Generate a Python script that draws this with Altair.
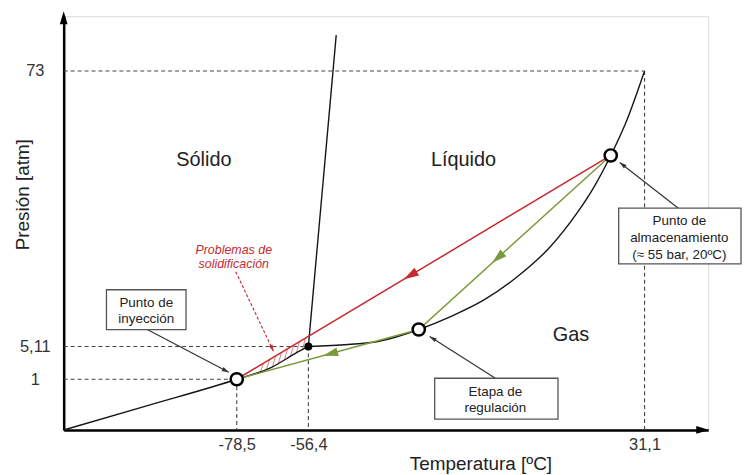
import altair as alt
import pandas as pd
import numpy as np

# Schematic diagram units (u: temperature direction, v: pressure direction)
W, H = 648, 416

x_tick_pos = [174, 246, 584]
x_tick_text = ['-78,5', '-56,4', '31,1']
y_tick_pos = [51, 84, 361]
y_tick_text = ['1', '5,11', '73']

# phase boundaries
sub_u = [0, 86, 174, 209, 233, 246]
sub_v = [0, 25, 51, 63, 77, 84]
melt_u = [246, 274]
melt_v = [84, 397]
vap_u = [246, 286, 316, 357, 389, 423, 456, 489, 516, 533, 550, 566, 584]
vap_v = [84, 86, 89, 101, 114, 131, 154, 184, 218, 244, 276, 311, 361]

# process paths
red_u = [550, 174]
red_v = [276, 51]
green_u = [550, 357, 174]
green_v = [276, 101, 51]

# state points
open_u = [174, 357, 550]
open_v = [51, 101, 276]
triple_u = [246]
triple_v = [84]

# dashed guides (segments)
g_u1 = [0, 584, 0, 246, 0, 174]
g_v1 = [361, 361, 84, 84, 51, 51]
g_u2 = [584, 584, 246, 246, 174, 174]
g_v2 = [361, 0, 84, 0, 51, 0]

# hatch positions (solidification zone)
hatch_u = [198, 204, 210, 216, 222, 228, 234, 240]

# region labels
region_names = ['Sólido', 'Líquido', 'Gas']
region_u = [141, 402, 510]
region_v = [271, 271, 95]

# annotation boxes
box_u1 = [43, 558, 373]
box_u2 = [123, 681, 497]
box_v1 = [141, 223, 52]
box_v2 = [101, 167, 11]

note_text = ['Punto de', 'inyección', 'Punto de', 'almacenamiento',
             '(≈ 55 bar, 20ºC)', 'Etapa de', 'regulación']
note_u = [83, 83, 619, 619, 619, 434, 434]
note_v = [128, 112, 210, 193, 176, 38, 22]

red_note = ['Problemas de', 'solidificación']
red_note_u = [171, 171]
red_note_v = [181, 167]

# annotation leader lines (start -> tip)
lead_u1 = [84, 618, 434]
lead_v1 = [101, 223, 52]
lead_u2 = [166, 559, 368]
lead_v2 = [58, 269, 94]
rlead_u1 = [173]
rlead_v1 = [159]
rlead_u2 = [211]
rlead_v2 = [79]

# arrowheads on process lines: fraction along segment
proc_arrow_frac = [0.553, 0.617, 0.525]

RED = '#C62A2E'
GREEN = '#7C9A3C'
BLACK = '#161616'
ARROW = 'M0,0L0.45,1.5L-0.45,1.5Z'


def heading(du, dv):
    return float(np.degrees(np.arctan2(du, dv)) % 360)


def label_expr(pos, txt):
    expr = "''"
    for p, t in reversed(list(zip(pos, txt))):
        expr = f"datum.value == {p} ? '{t}' : ({expr})"
    return expr


FONT = 'Liberation Sans'
xaxis = alt.Axis(values=x_tick_pos, labelExpr=label_expr(x_tick_pos, x_tick_text),
                 ticks=False, tickSize=0, grid=False, domainColor='black', domainWidth=2.5,
                 labelFont=FONT, labelFontSize=16.5, labelColor='#333',
                 labelPadding=15, labelBaseline='middle', labelAlign='center',
                 title='Temperatura [ºC]', titleFont=FONT, titleFontSize=19,
                 titleFontWeight='normal', titleColor='#222', titleX=419, titleY=34,
                 titleBaseline='middle', titleAlign='center')
yaxis = alt.Axis(values=y_tick_pos, labelExpr=label_expr(y_tick_pos, y_tick_text),
                 ticks=False, tickSize=0, grid=False, domainColor='black', domainWidth=2.5,
                 labelFont=FONT, labelFontSize=16.5, labelColor='#333',
                 labelPadding=29, labelBaseline='middle', labelAlign='center',
                 title='Presión [atm]', titleFont=FONT, titleFontSize=19,
                 titleFontWeight='normal', titleColor='#222', titleX=-41, titleY=179,
                 titleAngle=270, titleBaseline='middle', titleAlign='center')
xs = alt.Scale(domain=[0, W], nice=False, zero=False)
ys = alt.Scale(domain=[0, H], nice=False, zero=False)


def X(f='u'):
    return alt.X(f'{f}:Q', scale=xs, axis=xaxis)


def Y(f='v'):
    return alt.Y(f'{f}:Q', scale=ys, axis=yaxis)


# ---------- data frames ----------
guides = pd.DataFrame({'u': g_u1, 'v': g_v1, 'u2': g_u2, 'v2': g_v2})

curves = pd.concat([
    pd.DataFrame({'u': sub_u, 'v': sub_v, 'c': 'sub'}),
    pd.DataFrame({'u': melt_u, 'v': melt_v, 'c': 'melt'}),
    pd.DataFrame({'u': vap_u, 'v': vap_v, 'c': 'vap'}),
])

red_line = pd.DataFrame({'u': red_u, 'v': red_v, 'o': range(len(red_u))})
green_line = pd.DataFrame({'u': green_u, 'v': green_v, 'o': range(len(green_u))})

hu0 = np.array(hatch_u, dtype=float)
hv0 = np.interp(hu0, sub_u, sub_v)
hu1 = hu0 + 3
hv1 = np.interp(hu1, red_u[::-1], red_v[::-1])
hatch = pd.DataFrame({'u': hu0, 'v': hv0, 'u2': hu1, 'v2': hv1})

# arrowheads
segs = [((red_u[0], red_v[0]), (red_u[1], red_v[1]), RED),
        ((green_u[0], green_v[0]), (green_u[1], green_v[1]), GREEN),
        ((green_u[1], green_v[1]), (green_u[2], green_v[2]), GREEN)]
heads = []
for (a, b, col), t in zip(segs, proc_arrow_frac):
    du, dv = b[0] - a[0], b[1] - a[1]
    heads.append({'u': a[0] + t * du, 'v': a[1] + t * dv, 'ang': heading(du, dv),
                  'col': col, 'sz': 400})
for i in range(len(lead_u1)):
    du, dv = lead_u2[i] - lead_u1[i], lead_v2[i] - lead_v1[i]
    heads.append({'u': lead_u2[i], 'v': lead_v2[i], 'ang': heading(du, dv),
                  'col': '#333', 'sz': 90})
for i in range(len(rlead_u1)):
    du, dv = rlead_u2[i] - rlead_u1[i], rlead_v2[i] - rlead_v1[i]
    heads.append({'u': rlead_u2[i], 'v': rlead_v2[i], 'ang': heading(du, dv),
                  'col': RED, 'sz': 80})
# axis arrows
heads.append({'u': W + 1, 'v': 0, 'ang': 90.0, 'col': 'black', 'sz': 300})
heads.append({'u': 0, 'v': H + 5, 'ang': 0.0, 'col': 'black', 'sz': 300})
heads = pd.DataFrame(heads)

leads = pd.DataFrame({'u': lead_u1, 'v': lead_v1, 'u2': lead_u2, 'v2': lead_v2})
rleads = pd.DataFrame({'u': rlead_u1, 'v': rlead_v1, 'u2': rlead_u2, 'v2': rlead_v2})
boxes = pd.DataFrame({'u': box_u1, 'v': box_v1, 'u2': box_u2, 'v2': box_v2})
regions = pd.DataFrame({'u': region_u, 'v': region_v, 't': region_names})
notes = pd.DataFrame({'u': note_u, 'v': note_v, 't': note_text})
rnotes = pd.DataFrame({'u': red_note_u, 'v': red_note_v, 't': red_note})
opens = pd.DataFrame({'u': open_u, 'v': open_v})
triple = pd.DataFrame({'u': triple_u, 'v': triple_v})

# ---------- layers ----------
layers = []
layers.append(alt.Chart(guides).mark_rule(color='#444', strokeWidth=1.1, strokeDash=[4, 3]).encode(
    x=X(), y=Y(), x2='u2:Q', y2='v2:Q'))
layers.append(alt.Chart(hatch).mark_rule(color='#E07070', strokeWidth=0.9).encode(
    x=X(), y=Y(), x2='u2:Q', y2='v2:Q'))
layers.append(alt.Chart(curves).mark_line(color=BLACK, strokeWidth=1.4, interpolate='monotone').encode(
    x=X(), y=Y(), detail='c:N'))
layers.append(alt.Chart(red_line).mark_line(color=RED, strokeWidth=1.5).encode(
    x=X(), y=Y(), order='o:Q'))
layers.append(alt.Chart(green_line).mark_line(color=GREEN, strokeWidth=1.5).encode(
    x=X(), y=Y(), order='o:Q'))
layers.append(alt.Chart(leads).mark_rule(color='#333', strokeWidth=1.2).encode(
    x=X(), y=Y(), x2='u2:Q', y2='v2:Q'))
layers.append(alt.Chart(rleads).mark_rule(color=RED, strokeWidth=1.1, strokeDash=[3, 2]).encode(
    x=X(), y=Y(), x2='u2:Q', y2='v2:Q'))
layers.append(alt.Chart(heads).mark_point(shape=ARROW, filled=True, opacity=1).encode(
    x=X(), y=Y(), angle=alt.Angle('ang:Q', scale=None),
    color=alt.Color('col:N', scale=None), size=alt.Size('sz:Q', scale=None)))
layers.append(alt.Chart(boxes).mark_rect(fill='white', stroke='#555', strokeWidth=1.3).encode(
    x=X(), y=Y(), x2='u2:Q', y2='v2:Q'))
layers.append(alt.Chart(regions).mark_text(font=FONT, fontSize=20, color='#222',
                                           align='center', baseline='middle').encode(
    x=X(), y=Y(), text='t:N'))
layers.append(alt.Chart(notes).mark_text(font=FONT, fontSize=13.5, color='#222',
                                         align='center', baseline='middle').encode(
    x=X(), y=Y(), text='t:N'))
layers.append(alt.Chart(rnotes).mark_text(font=FONT, fontSize=12.5, color=RED, fontStyle='italic',
                                          align='center', baseline='middle').encode(
    x=X(), y=Y(), text='t:N'))
layers.append(alt.Chart(opens).mark_point(shape='circle', filled=True, fill='white', stroke='black',
                                          strokeWidth=2.5, size=150, opacity=1).encode(
    x=X(), y=Y()))
layers.append(alt.Chart(triple).mark_point(shape='circle', filled=True, color='black',
                                           size=64, opacity=1).encode(
    x=X(), y=Y()))

chart = alt.layer(*layers).properties(
    width=W, height=H,
    padding={'left': 56, 'top': 7, 'right': 36, 'bottom': 44},
    autosize=alt.AutoSizeParams(type='none'),
).configure_view(stroke=None).configure(font=FONT)

chart.save('out.html', embed_options={'renderer': 'svg', 'actions': False})
